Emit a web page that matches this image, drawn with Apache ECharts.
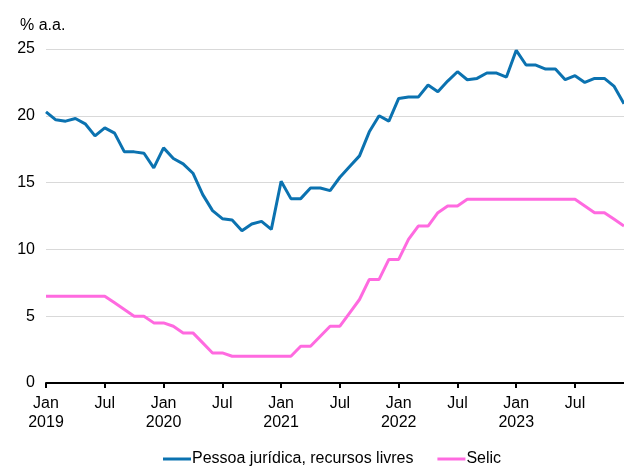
<!DOCTYPE html>
<html>
<head>
<meta charset="utf-8">
<script src="https://cdn.jsdelivr.net/npm/echarts@6/dist/echarts.min.js"></script>
<style>
  html, body { margin: 0; padding: 0; background: #fff; }
  #main { width: 624px; height: 466px; }
</style>
</head>
<body>
<div id="main"></div>
<script>
// meses jan/2019 - dez/2023
var years = ['2019', '2020', '2021', '2022', '2023'];
var monthNames = ['Jan', 'Feb', 'Mar', 'Apr', 'May', 'Jun', 'Jul', 'Aug', 'Sep', 'Oct', 'Nov', 'Dec'];
var categories = [];
years.forEach(function (y) {
    monthNames.forEach(function (m) { categories.push(m + ' ' + y); });
});

// taxa media - pessoa juridica, recursos livres (% a.a.)
var pessoaJuridica = [
    20.3, 19.7, 19.6, 19.8, 19.4, 18.5, 19.1, 18.7, 17.3, 17.3, 17.2, 16.1,
    17.6, 16.8, 16.4, 15.7, 14.1, 12.9, 12.3, 12.2, 11.4, 11.9, 12.1, 11.5,
    15.1, 13.8, 13.8, 14.6, 14.6, 14.4, 15.4, 16.2, 17.0, 18.8, 20.0, 19.6,
    21.3, 21.4, 21.4, 22.3, 21.8, 22.6, 23.3, 22.7, 22.8, 23.2, 23.2, 22.9,
    24.9, 23.8, 23.8, 23.5, 23.5, 22.7, 23.0, 22.5, 22.8, 22.8, 22.2, 20.9
];

// meta Selic (% a.a.)
var selic = [
    6.5, 6.5, 6.5, 6.5, 6.5, 6.5, 6.5, 6.0, 5.5, 5.0, 5.0, 4.5,
    4.5, 4.25, 3.75, 3.75, 3.0, 2.25, 2.25, 2.0, 2.0, 2.0, 2.0, 2.0,
    2.0, 2.0, 2.75, 2.75, 3.5, 4.25, 4.25, 5.25, 6.25, 7.75, 7.75, 9.25,
    9.25, 10.75, 11.75, 11.75, 12.75, 13.25, 13.25, 13.75, 13.75, 13.75, 13.75, 13.75,
    13.75, 13.75, 13.75, 13.75, 13.75, 13.75, 13.75, 13.25, 12.75, 12.75, 12.25, 11.75
];

var font = 'Liberation Sans, Arial, sans-serif';

var myChart = echarts.init(document.getElementById('main'), null, { renderer: 'canvas' });

var option = {
    animation: false,
    title: {
        text: '% a.a.',
        left: 15,
        top: 13,
        textStyle: { fontFamily: font, fontSize: 16, fontWeight: 'normal', color: '#000' }
    },
    grid: { left: 46, right: 0, top: 49, bottom: 83, containLabel: false },
    legend: {
        left: 158,
        top: 446,
        itemWidth: 28,
        itemHeight: 3,
        itemGap: 24,
        icon: 'rect',
        textStyle: { fontFamily: font, fontSize: 16, color: '#000', padding: [0, 0, 0, -4] },
        data: ['Pessoa jurídica, recursos livres', 'Selic']
    },
    xAxis: {
        type: 'category',
        boundaryGap: false,
        data: categories,
        axisLine: { lineStyle: { color: '#000', width: 2 } },
        axisTick: {
            length: 5,
            lineStyle: { color: '#000', width: 2 },
            interval: function (i) { return i % 6 === 0; }
        },
        axisLabel: {
            interval: function (i) { return i % 6 === 0; },
            fontFamily: font,
            fontSize: 16,
            color: '#000',
            lineHeight: 19,
            margin: 11,
            formatter: function (v) {
                var p = v.split(' ');
                return p[0] === 'Jan' ? 'Jan\n' + p[1] : p[0];
            }
        },
        splitLine: { show: false }
    },
    yAxis: {
        type: 'value',
        min: 0,
        max: 25,
        interval: 5,
        axisLine: { show: false },
        axisTick: { show: false },
        axisLabel: { fontFamily: font, fontSize: 16, color: '#000', margin: 11 },
        splitLine: { lineStyle: { color: '#d9d9d9', width: 1 } }
    },
    series: [
        {
            name: 'Pessoa jurídica, recursos livres',
            type: 'line',
            data: pessoaJuridica,
            showSymbol: false,
            symbol: 'none',
            color: '#0b72b0',
            lineStyle: { width: 3, color: '#0b72b0' }
        },
        {
            name: 'Selic',
            type: 'line',
            data: selic,
            showSymbol: false,
            symbol: 'none',
            color: '#ff6ae0',
            lineStyle: { width: 3, color: '#ff6ae0' }
        }
    ]
};
myChart.setOption(option);
</script>
</body>
</html>
